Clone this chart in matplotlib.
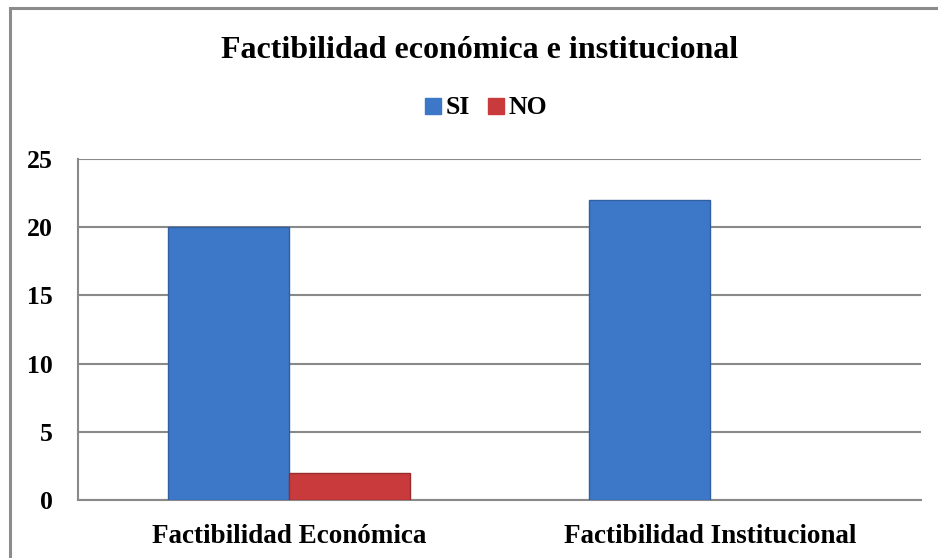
import matplotlib.pyplot as plt
import numpy as np
from matplotlib.patches import Rectangle
from matplotlib.lines import Line2D

categories = ['Factibilidad Económica', 'Factibilidad Institucional']
si_values = [20, 22]
no_values = [2, 0]
y_ticks = [0, 5, 10, 15, 20, 25]

plt.rcParams['font.family'] = ['Liberation Serif', 'DejaVu Serif']
plt.rcParams['font.weight'] = 'bold'

fig = plt.figure(figsize=(9.38, 5.58), dpi=100)
ax = fig.add_axes([78 / 938, 58 / 558, 843 / 938, 341 / 558])

# outer chart frame
fig.patches.append(Rectangle((10 / 938, -0.1), 1.2, 1.1 - 8 / 558,
                             transform=fig.transFigure, fill=False,
                             edgecolor='#8c8c8c', linewidth=2.2))

x = np.arange(len(categories))
w = 0.287
blue = '#3d78c8'
red = '#c83a3c'
ax.bar(x - w / 2, si_values, w, color=blue, edgecolor='#2f5f9f', linewidth=1.0, zorder=3)
no_bars = ax.bar(x + w / 2, no_values, w, color=red, edgecolor='#9a2b2c', linewidth=1.0, zorder=3)
for b, v in zip(no_bars, no_values):
    if v == 0:
        b.set_visible(False)

ax.set_xlim(-0.5, 1.5)
ax.set_ylim(0, 25)
ax.set_yticks(y_ticks)
ax.set_xticks(x)
ax.set_xticklabels(categories, fontsize=19.5, fontweight='bold')
ax.tick_params(axis='y', labelsize=18.5, length=0, pad=18)
ax.tick_params(axis='x', length=0, pad=17)
for lab in ax.get_yticklabels():
    lab.set_fontweight('bold')

ax.yaxis.grid(True, color='#898989', linewidth=1.5, zorder=0)
for side in ['top', 'right']:
    ax.spines[side].set_visible(False)
for side in ['left', 'bottom']:
    ax.spines[side].set_color('#898989')
    ax.spines[side].set_linewidth(1.5)

fig.text(480 / 938, 1 - 51 / 558, 'Factibilidad económica e institucional',
         ha='center', va='center', fontsize=23, fontweight='bold')

handles = [Line2D([], [], marker='s', linestyle='', markersize=11.5, color=blue),
           Line2D([], [], marker='s', linestyle='', markersize=11.5, color=red)]
fig.legend(handles, ['SI', 'NO'], loc='center', bbox_to_anchor=(484 / 938, 1 - 108 / 558),
           ncol=2, frameon=False, handletextpad=0.0, columnspacing=0.5,
           handlelength=1.0, prop={'weight': 'bold', 'size': 18.5})

fig.savefig('out.png', dpi=100)
